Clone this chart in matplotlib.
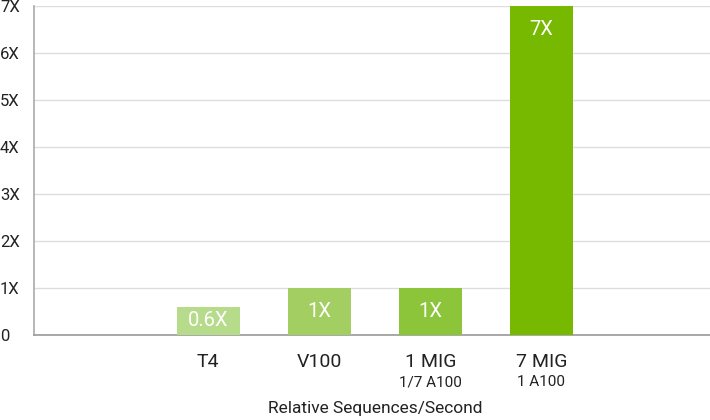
import matplotlib
matplotlib.use("Agg")
import matplotlib.pyplot as plt

# data
categories = ["T4", "V100", "1 MIG", "7 MIG"]
sublabels = ["", "", "1/7 A100", "1 A100"]
values = [0.6, 1, 1, 7]
value_labels = ["0.6X", "1X", "1X", "7X"]
y_ticks = [0, 1, 2, 3, 4, 5, 6, 7]
y_tick_labels = ["0", "1X", "2X", "3X", "4X", "5X", "6X", "7X"]
bar_colors = ["#b6db8a", "#a3cf62", "#8cc43a", "#76b900"]

plt.rcParams["font.family"] = ["Roboto", "DejaVu Sans"]

fig = plt.figure(figsize=(7.1, 4.2), dpi=100)
ax = fig.add_axes([34 / 710, 85 / 420, 676 / 710, 329 / 420])

x = list(range(len(categories)))
ax.bar(x, values, width=0.57, color=bar_colors, zorder=3)

# value labels inside bars: centred in short bars, near top in tall ones
for xi, v, lab in zip(x, values, value_labels):
    ax.text(xi, v - min(0.5, v / 2), lab, ha="center", va="center",
            color="white", fontsize=14.5, zorder=4)

ax.set_xlim(-1.57, 4.52)
ax.set_ylim(0, 7)
ax.set_yticks(y_ticks)
ax.set_yticklabels(y_tick_labels, fontsize=12, color="#222222")
ax.tick_params(axis="y", length=0, pad=0)
for lbl in ax.get_yticklabels():
    lbl.set_horizontalalignment("left")
    lbl.set_x(-34 / 676)

ax.set_xticks([])
for xi, cat, sub in zip(x, categories, sublabels):
    ax.annotate(cat, (xi, 0), xytext=(0, -13), textcoords="offset points",
                ha="center", va="top", fontsize=14, color="#222222")
    if sub:
        ax.annotate(sub, (xi, 0), xytext=(0, -29), textcoords="offset points",
                    ha="center", va="top", fontsize=11, color="#222222")

fig.text(375 / 710, 1 - 409 / 420, "Relative Sequences/Second", ha="center",
         va="center", fontsize=12.5, color="#222222")

ax.grid(axis="y", color="#dddddd", linewidth=1, zorder=0)
for side in ["top", "right"]:
    ax.spines[side].set_visible(False)
ax.spines["left"].set_color("#aaaaaa")
ax.spines["left"].set_linewidth(1.2)
ax.spines["bottom"].set_color("#999999")
ax.spines["bottom"].set_linewidth(1.2)

fig.savefig("out.png", dpi=100)
